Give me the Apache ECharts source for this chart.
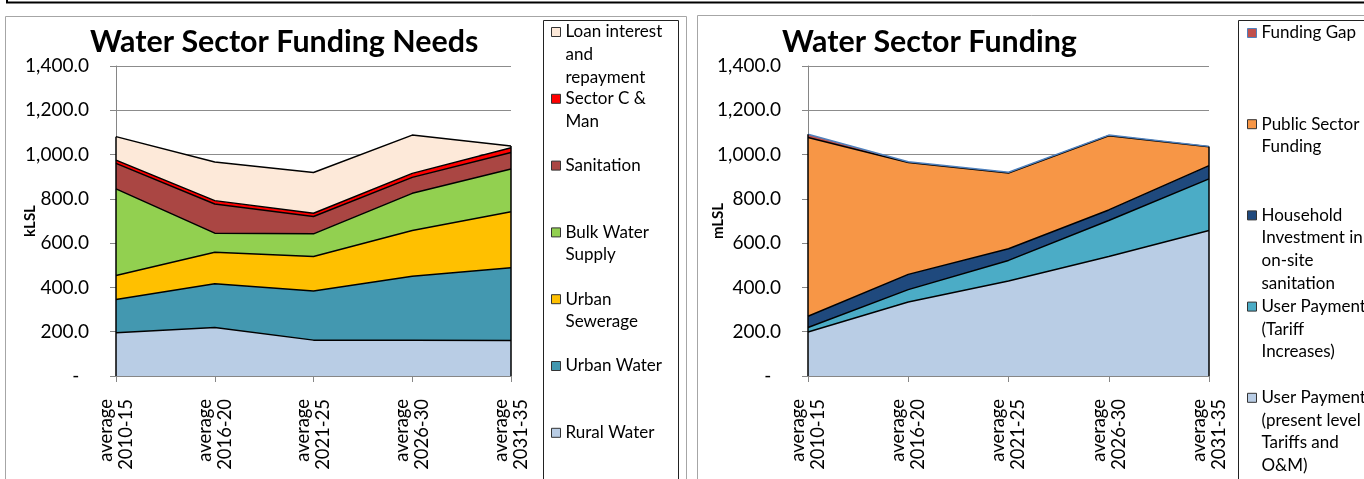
<!DOCTYPE html>
<html>
<head>
<meta charset="utf-8">
<script src="https://cdn.jsdelivr.net/npm/echarts@6/dist/echarts.min.js"></script>
<style>
  html, body { margin: 0; padding: 0; background: #fff; }
  #chart { width: 1364px; height: 479px; }
</style>
</head>
<body>
<div id="chart"></div>
<script>
// categories
const periods = ['average\n2010-15', 'average\n2016-20', 'average\n2021-25', 'average\n2026-30', 'average\n2031-35']

// funding needs (kLSL), bottom of the stack first
const ruralWater = [195, 219, 162, 162, 160]
const urbanWater = [150, 198, 222, 289, 329]
const urbanSewerage = [109, 142, 156, 206, 253]
const bulkWater = [391, 86, 102, 168, 193]
const sanitation = [115, 132, 78, 72, 74]
const sectorCMan = [15, 15, 15, 18, 22]
const loanRepay = [106, 174, 184, 173, 8]

// funding (mLSL), bottom of the stack first
const userPresent = [199, 334, 429, 540, 657]
const userTariff = [20, 56, 93, 162, 233]
const household = [51, 69, 53, 48, 60]
const publicSector = [807, 505, 342, 335, 85]
const fundingGap = [15, 4, 3, 3, 2]

const yTicks = { min: 0, max: 1400, interval: 200 }

const FONT = 'Lato, "Open Sans", sans-serif'

let chart = echarts.init(document.getElementById('chart'))

// 1,400.0 style, zero shown as a dash
function fmtY (v) {
  if (v === 0) return '-  '
  return v.toLocaleString('en-US', { minimumFractionDigits: 1, maximumFractionDigits: 1 })
}

function areaSeries (name, data, color, idx, stack, lineColor) {
  return {
    name: name,
    type: 'line',
    stack: stack,
    xAxisIndex: idx,
    yAxisIndex: idx,
    data: data,
    symbol: 'none',
    showSymbol: false,
    color: color,
    itemStyle: { color: color },
    lineStyle: { color: lineColor || '#000', width: 1.5 },
    areaStyle: { color: color, opacity: 1 },
    emphasis: { disabled: true }
  }
}

const needs = [
  ['Rural Water', ruralWater, '#B9CDE5'],
  ['Urban Water', urbanWater, '#4398B0'],
  ['Urban\nSewerage', urbanSewerage, '#FFC000'],
  ['Bulk Water\nSupply', bulkWater, '#92D050'],
  ['Sanitation', sanitation, '#AA4643'],
  ['Sector C &\nMan', sectorCMan, '#FF0000'],
  ['Loan interest\nand\nrepayment', loanRepay, '#FDE9D9']
]

const funding = [
  ['User Payments\n(present level\nTariffs and\nO&M)', userPresent, '#B9CDE5'],
  ['User Payments\n(Tariff\nIncreases)', userTariff, '#4BACC6'],
  ['Household\nInvestment in\non-site\nsanitation', household, '#1F497D'],
  ['Public Sector\nFunding', publicSector, '#F79646'],
  ['Funding Gap', fundingGap, '#C0504D']
]

// stack totals, used for the black outline at both ends of the area
function totals (list) {
  return periods.map(function (p, i) {
    return list.reduce(function (a, s) { return a + s[1][i] }, 0)
  })
}

function edgeLines (tot) {
  let last = periods.length - 1
  return {
    silent: true,
    symbol: 'none',
    label: { show: false },
    lineStyle: { color: '#000', width: 1.5, type: 'solid' },
    data: [
      [{ coord: [0, 0] }, { coord: [0, tot[0]] }],
      [{ coord: [last, 0] }, { coord: [last, tot[last]] }]
    ]
  }
}

let series = []
needs.forEach(function (s) {
  series.push(areaSeries(s[0], s[1], s[2], 0, 'needs'))
})
funding.forEach(function (s) {
  series.push(areaSeries(s[0], s[1], s[2], 1, 'funding', s[0] === 'Funding Gap' ? '#4F81BD' : '#000'))
})
series[needs.length - 1].markLine = edgeLines(totals(needs))
series[series.length - 1].markLine = edgeLines(totals(funding))

// one legend per entry; blank lines in front keep the icon on the first text line
function legendFor (name, left, firstLineY, lh, border) {
  let n = name.split('\n').length
  return {
    data: [name],
    left: left,
    top: firstLineY - lh * (n - 0.5),
    padding: 0,
    orient: 'vertical',
    selectedMode: false,
    icon: 'rect',
    itemWidth: 9,
    itemHeight: 9,
    itemStyle: { borderColor: border || '#333', borderWidth: 1 },
    formatter: function (nm) { return '\n'.repeat(n - 1) + nm },
    textStyle: { fontFamily: FONT, fontSize: 17, color: '#000', lineHeight: lh }
  }
}

let legends = []
needs.slice().reverse().forEach(function (s, i) {
  legends.push(legendFor(s[0], 551, 32 + i * 66.8, 22.6))
})
funding.slice().reverse().forEach(function (s, i) {
  legends.push(legendFor(s[0], 1247, 33 + i * 91.2, 22.6, s[0] === 'Funding Gap' ? '#4F81BD' : '#333'))
})

function xAxisFor (idx) {
  return {
    gridIndex: idx,
    type: 'category',
    data: periods,
    boundaryGap: false,
    axisLine: { lineStyle: { color: '#868686', width: 1 } },
    axisTick: { show: true, length: 6, lineStyle: { color: '#868686' } },
    axisLabel: { rotate: 90, margin: 23, fontFamily: FONT, fontSize: 18.4, color: '#000', lineHeight: 20 }
  }
}

function yAxisFor (idx, name, gap) {
  return {
    gridIndex: idx,
    type: 'value',
    min: yTicks.min,
    max: yTicks.max,
    interval: yTicks.interval,
    name: name,
    nameLocation: 'middle',
    nameRotate: 90,
    nameGap: gap,
    nameMoveOverlap: false,
    nameTextStyle: { fontFamily: FONT, fontSize: 15, fontWeight: 'bold', color: '#000' },
    axisLine: { show: true, lineStyle: { color: '#868686', width: 1 } },
    axisTick: { show: true, length: 6, lineStyle: { color: '#868686' } },
    axisLabel: { formatter: fmtY, margin: 27, fontFamily: FONT, fontSize: 19, color: '#000' },
    splitLine: { show: true, lineStyle: { color: '#8C8C8C', width: 1 } }
  }
}

chart.setOption({
  animation: false,
  backgroundColor: '#fff',
  title: [
    { text: 'Water Sector Funding Needs', left: 90, top: 27, padding: 0,
      textStyle: { fontFamily: FONT, fontSize: 30.4, fontWeight: 'bold', color: '#000' } },
    { text: 'Water Sector Funding', left: 782, top: 27, padding: 0,
      textStyle: { fontFamily: FONT, fontSize: 30.4, fontWeight: 'bold', color: '#000' } }
  ],
  legend: legends,
  grid: [
    { left: 116, top: 66, width: 395, height: 310 },
    { left: 808, top: 66, width: 401, height: 310 }
  ],
  xAxis: [xAxisFor(0), xAxisFor(1)],
  yAxis: [yAxisFor(0, 'kLSL', 78), yAxisFor(1, 'mLSL', 82)],
  series: series,
  graphic: [
    { type: 'rect', silent: true, shape: { x: 7, y: -10, width: 1400, height: 12.5 },
      style: { fill: 'none', stroke: '#000', lineWidth: 2 } },
    { type: 'rect', silent: true, shape: { x: 5.5, y: 16.5, width: 681, height: 480 },
      style: { fill: 'none', stroke: '#A6A6A6', lineWidth: 1 } },
    { type: 'rect', silent: true, shape: { x: 697.5, y: 15.5, width: 700, height: 480 },
      style: { fill: 'none', stroke: '#A6A6A6', lineWidth: 1 } },
    { type: 'rect', silent: true, shape: { x: 543.5, y: 20.5, width: 135, height: 480 },
      style: { fill: 'none', stroke: '#222', lineWidth: 1 } },
    { type: 'rect', silent: true, shape: { x: 1238.5, y: 20.5, width: 160, height: 480 },
      style: { fill: 'none', stroke: '#222', lineWidth: 1 } }
  ]
})
</script>
</body>
</html>
